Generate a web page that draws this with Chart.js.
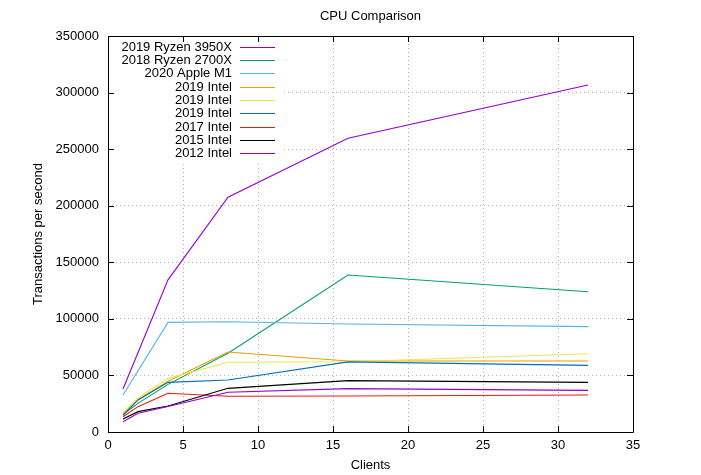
<!DOCTYPE html>
<html>
<head>
<meta charset="utf-8">
<script src="https://cdn.jsdelivr.net/npm/chart.js@4/dist/chart.umd.min.js"></script>
<style>
  html, body { margin: 0; padding: 0; background: #fff; }
  canvas { display: block; }
</style>
</head>
<body>
<canvas id="c" width="701" height="475"></canvas>
<script>
const clients = [1, 2, 4, 8, 16, 32];
const seriesLabels = ["2019 Ryzen 3950X", "2018 Ryzen 2700X", "2020 Apple M1", "2019 Intel", "2019 Intel", "2019 Intel", "2017 Intel", "2015 Intel", "2012 Intel"];
const ryzen3950x = [38000, null, 134500, 207500, 259600, 306700];
const ryzen2700x = [15500, 25300, 42100, 69600, 138800, 124000];
const appleM1 = [32700, null, 96900, 97400, 95400, 93100];
const intel2019a = [16300, 28500, 44800, 70700, 62700, 62700];
const intel2019b = [17000, 29800, 47400, 61600, 62100, 69200];
const intel2019c = [14700, 28300, 43900, 46000, 62000, 58900];
const intel2017 = [13500, 22400, 34200, 31600, 31800, 32700];
const intel2015 = [11500, 18000, 23000, 38600, 45400, 43900];
const intel2012 = [9100, 16500, 22500, 35100, 38300, 36800];
const seriesValues = [ryzen3950x, ryzen2700x, appleM1, intel2019a, intel2019b, intel2019c, intel2017, intel2015, intel2012];
const seriesColors = ["#9400d3", "#009e73", "#56b4e9", "#e69f00", "#f0e442", "#0072b2", "#e51e10", "#000000", "#9400d3"];
const xTicks = [0, 5, 10, 15, 20, 25, 30, 35];
const yTicks = [0, 50000, 100000, 150000, 200000, 250000, 300000, 350000];

const FONT = "'Liberation Sans', Arial, Helvetica, sans-serif";

const datasets = seriesValues.map((vals, i) => ({
  label: seriesLabels[i],
  data: clients.map((c, j) => ({ x: c, y: vals[j] })),
  borderColor: seriesColors[i],
  backgroundColor: seriesColors[i],
  borderWidth: 1.1,
  pointRadius: 0,
  tension: 0,
  fill: false,
  spanGaps: true,
  order: seriesValues.length - i
}));

const framePlugin = {
  id: 'frame',
  afterDraw(chart) {
    const ctx = chart.ctx;
    const a = chart.chartArea;
    const xs = chart.scales.x, ys = chart.scales.y;
    // opaque key
    ctx.save();
    ctx.fillStyle = '#ffffff';
    ctx.fillRect(a.left + 1, a.top + 1, 282 - a.left - 1, 162 - a.top - 1);
    ctx.font = "13px " + FONT;
    ctx.textAlign = 'right';
    ctx.textBaseline = 'middle';
    chart.data.datasets.forEach((ds, i) => {
      const y = 46.7 + i * 13.33;
      ctx.fillStyle = '#000';
      ctx.fillText(ds.label, 232, y + 0.5);
      ctx.strokeStyle = ds.borderColor;
      ctx.lineWidth = 1.1;
      ctx.beginPath();
      ctx.moveTo(240, Math.round(y) + 0.5);
      ctx.lineTo(275, Math.round(y) + 0.5);
      ctx.stroke();
    });
    // border and inward ticks
    ctx.strokeStyle = '#000';
    ctx.lineWidth = 1;
    ctx.beginPath();
    ctx.rect(Math.round(a.left) + 0.5, Math.round(a.top) + 0.5, Math.round(a.right - a.left), Math.round(a.bottom - a.top));
    const tl = 6;
    xTicks.forEach(v => {
      const p = Math.round(xs.getPixelForValue(v)) + 0.5;
      ctx.moveTo(p, a.bottom); ctx.lineTo(p, a.bottom - tl);
      ctx.moveTo(p, a.top); ctx.lineTo(p, a.top + tl);
    });
    yTicks.forEach(v => {
      const p = Math.round(ys.getPixelForValue(v)) + 0.5;
      ctx.moveTo(a.left, p); ctx.lineTo(a.left + tl, p);
      ctx.moveTo(a.right, p); ctx.lineTo(a.right - tl, p);
    });
    ctx.stroke();
    ctx.restore();
  }
};

new Chart(document.getElementById('c'), {
  type: 'line',
  data: { datasets },
  plugins: [framePlugin],
  options: {
    responsive: false,
    animation: false,
    devicePixelRatio: 1,
    layout: { padding: { left: 0, right: 68, top: 0, bottom: 0 } },
    plugins: {
      legend: { display: false },
      tooltip: { enabled: false },
      title: {
        display: true,
        text: 'CPU Comparison',
        color: '#000',
        fullSize: false,
        font: { family: FONT, size: 13, weight: 'normal', lineHeight: 1.2 },
        padding: { top: 9, bottom: 11.4 }
      }
    },
    scales: {
      x: {
        type: 'linear',
        min: 0, max: 35,
        afterFit(s) { s.height = 43; },
        afterBuildTicks(s) { s.ticks = xTicks.map(v => ({ value: v })); },
        ticks: { color: '#000', padding: 6, font: { family: FONT, size: 13 }, maxRotation: 0 },
        grid: { color: '#b4b4b4', lineWidth: 1, drawTicks: false },
        border: { display: false, dash: [1, 3] },
        title: { display: true, text: 'Clients', color: '#000', font: { family: FONT, size: 13, lineHeight: 1.2 }, padding: { top: 0, bottom: 2.2 } }
      },
      y: {
        type: 'linear',
        min: 0, max: 350000,
        afterFit(s) { s.width = 108; },
        afterBuildTicks(s) { s.ticks = yTicks.map(v => ({ value: v })); },
        ticks: { color: '#000', padding: 9, font: { family: FONT, size: 13 }, callback: v => String(v) },
        grid: { color: '#b4b4b4', lineWidth: 1, drawTicks: false },
        border: { display: false, dash: [1, 3] },
        title: { display: true, text: 'Transactions per second', color: '#000', font: { family: FONT, size: 13, lineHeight: 1.2 }, padding: { top: 30.2, bottom: 0 } }
      }
    }
  }
});
</script>
</body>
</html>
